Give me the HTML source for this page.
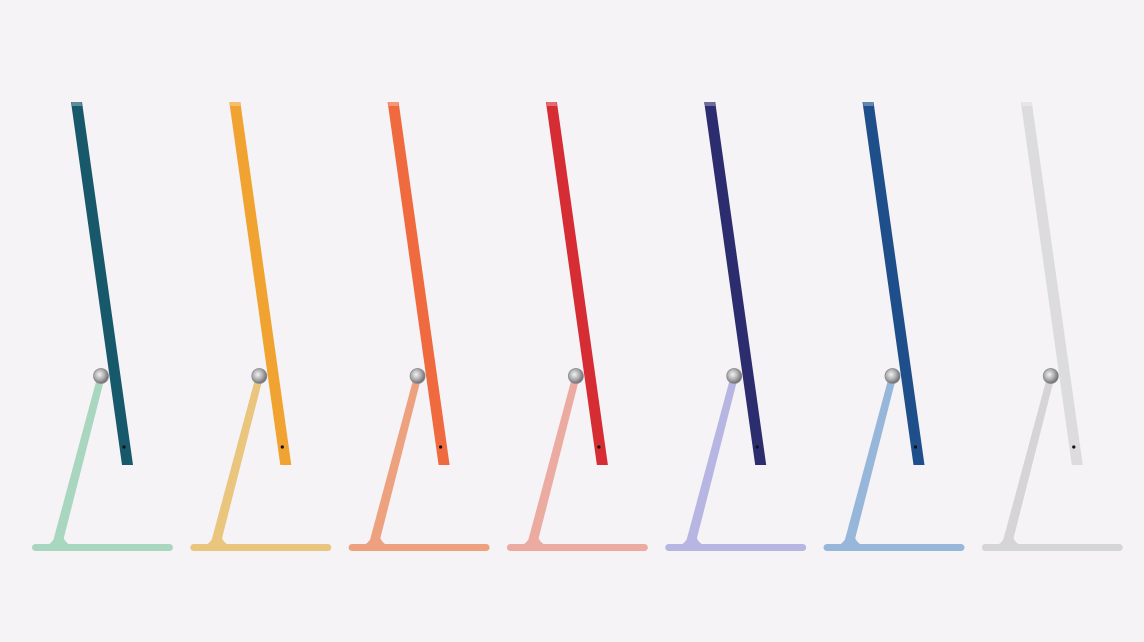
<!DOCTYPE html>
<html><head><meta charset="utf-8"><style>
html,body{margin:0;padding:0;background:#f5f3f6;}
svg{display:block}
</style></head><body>
<svg id="chart" width="1144" height="642" viewBox="0 0 1144 642" xmlns="http://www.w3.org/2000/svg">
<defs>
<radialGradient id="hg" cx="40%" cy="40%" r="60%">
<stop offset="0" stop-color="#f2f2f2"/><stop offset="0.6" stop-color="#a9a9ab"/><stop offset="1" stop-color="#6e6e72"/>
</radialGradient>
</defs>
<rect width="1144" height="642" fill="#f5f3f6"/>
<g id="items"></g>
</svg>
<script>
const names = ['green','yellow','orange','pink','purple','blue','silver'];
const screenColors = ['#17596a','#f0a331','#ef6a3e','#d62d35','#2c2d6e','#1f4f8b','#dcdcde'];
const standColors = ['#a9d6bf','#e9c57e','#eda17f','#ecaba1','#b7b5e2','#96b7da','#d5d5d8'];
const spacing = 158.3;
const g = document.getElementById('items');
const NS = 'http://www.w3.org/2000/svg';
function mk(tag, attrs){const e=document.createElementNS(NS,tag);for(const k in attrs)e.setAttribute(k,attrs[k]);return e;}
names.forEach((n,i)=>{
  const dx = i*spacing;
  const grp = mk('g',{transform:'translate('+dx+',0)'});
  
  
  const base = mk('rect',{x:32,y:544,width:141,height:7,rx:3.5,fill:standColors[i]});
  
  
  const leg = mk('polygon',{points:'97,378 104,380 62,545 52,545',fill:standColors[i]});
  
  
  const foot = mk('path',{d:'M48,545 Q55,540 57,532 L62,532 Q63,541 70,545 Z',fill:standColors[i]});
  
  
  const screen = mk('polygon',{points:'71,102 82,102 133,465 122,465',fill:screenColors[i]});
  
  
  const cap = mk('polygon',{points:'71.5,102 81.5,102 82,106 72,106',fill:'#ffffff',opacity:0.3});
  
  
  const dot = mk('circle',{cx:124,cy:447,r:1.6,fill:'#111'});
  
  
  const hinge = mk('circle',{cx:101,cy:376,r:7.5,fill:'url(#hg)',stroke:'#8a8a8e','stroke-width':0.8});
  
  
  grp.appendChild(base);grp.appendChild(leg);grp.appendChild(foot);grp.appendChild(screen);grp.appendChild(cap);grp.appendChild(dot);grp.appendChild(hinge);
  g.appendChild(grp);
});
</script>
</body></html>
